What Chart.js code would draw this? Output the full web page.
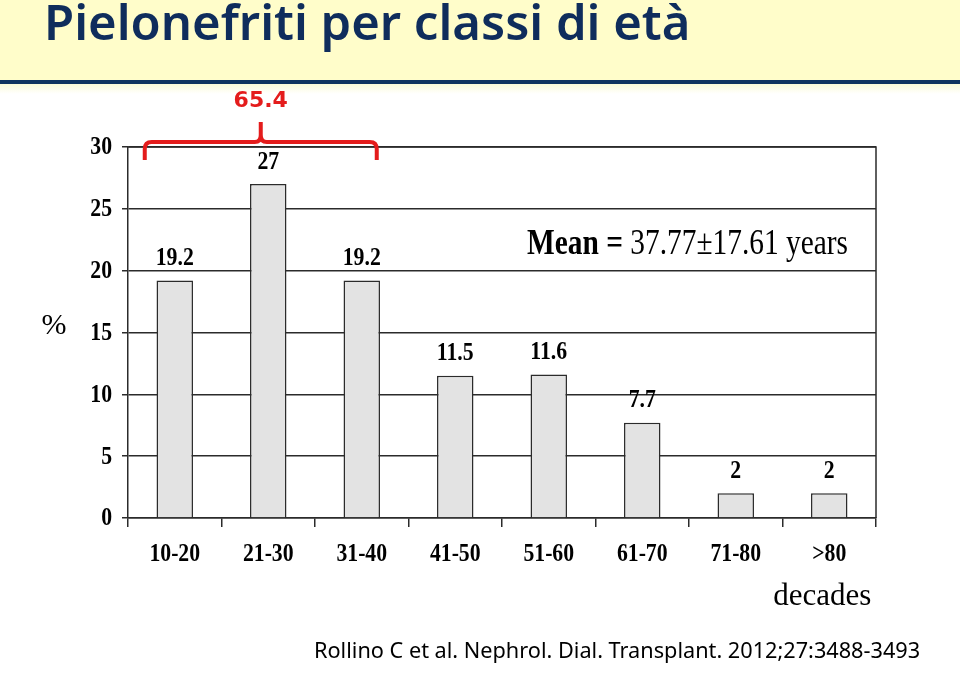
<!DOCTYPE html>
<html>
<head>
<meta charset="utf-8">
<script src="https://cdn.jsdelivr.net/npm/chart.js@4"></script>
<style>
html, body { margin: 0; padding: 0; background: #fff; }
#page { position: relative; width: 960px; height: 674px; overflow: hidden; background: #fff; }
#band { position: absolute; left: 0; top: 0; width: 960px; height: 80px; background: #fffdca; }
#rule { position: absolute; left: 0; top: 80px; width: 960px; height: 4px; background: #0f3461; }
#fade { position: absolute; left: 0; top: 84px; width: 960px; height: 10px; background: linear-gradient(#fbfbd8, #ffffff); }
#title { position: absolute; left: 44px; top: -12px; font-family: "Noto Sans", sans-serif; font-weight: 600; font-size: 49px; color: #0f2d5c; white-space: nowrap; }
#cite { position: absolute; left: 314px; top: 635px; font-family: "Noto Sans", sans-serif; font-size: 21.7px; color: #000; white-space: nowrap; }
#wrap { position: absolute; left: 0; top: 0; width: 960px; height: 674px; }
</style>
</head>
<body>
<div id="page">
	<div id="band"></div>
	<div id="rule"></div>
	<div id="fade"></div>
	<div id="title">Pielonefriti per classi di età</div>
	<div id="wrap"><canvas id="canvas"></canvas></div>
	<div id="cite">Rollino C et al. Nephrol. Dial. Transplant. 2012;27:3488-3493</div>
</div>
<script>
var decades = ['10-20', '21-30', '31-40', '41-50', '51-60', '61-70', '71-80', '>80'];
var percent = [19.2, 27, 19.2, 11.5, 11.6, 7.7, 2, 2];
var yTicks = [0, 5, 10, 15, 20, 25, 30];
var bracketTotal = '65.4';
var meanLabel = 'Mean = ';
var meanValue = '37.77±17.61 years';

var serif = '"Liberation Serif", "Times New Roman", serif';
var ink = '#2b2b2b';
var squeeze = 0.87;

// narrow Times-like text: draws txt squeezed horizontally
function narrowText(c, txt, x, y, align) {
	var w = c.measureText(txt).width * squeeze;
	var left = align === 'right' ? x - w : (align === 'left' ? x : x - w / 2);
	c.save();
	c.translate(left, y);
	c.scale(squeeze, 1);
	c.textAlign = 'left';
	c.fillText(txt, 0, 0);
	c.restore();
}

var extras = {
	id: 'extras',
	afterDatasetsDraw: function(chart) {
		var c = chart.ctx;
		var xs = chart.scales.x;
		var ys = chart.scales.y;
		var area = chart.chartArea;
		var bars = chart.getDatasetMeta(0).data;

		// frame on top and right
		c.save();
		c.strokeStyle = ink;
		c.lineWidth = 1.5;
		c.beginPath();
		c.moveTo(area.left, area.top);
		c.lineTo(area.right, area.top);
		c.lineTo(area.right, area.bottom);
		c.stroke();

		c.fillStyle = '#000';
		c.textBaseline = 'middle';
		c.font = 'bold 25px ' + serif;

		// tick labels
		ys.ticks.forEach(function(t, i) {
			narrowText(c, String(t.value), area.left - 16, ys.getPixelForTick(i) + 1, 'right');
		});
		decades.forEach(function(lab, i) {
			narrowText(c, lab, xs.getPixelForTick(i), area.bottom + 37, 'center');
		});

		// value labels
		bars.forEach(function(b, i) {
			narrowText(c, String(percent[i]), b.x, b.y - 22, 'center');
		});

		c.textAlign = 'center';
		// "%"
		c.font = '30px ' + serif;
		c.fillText('%', 54, ys.getPixelForValue(15) - 6);

		// decades
		c.font = '31px ' + serif;
		c.fillText('decades', xs.getPixelForValue(7) - 7, 597);

		// mean text, squeezed like the original
		c.textAlign = 'left';
		c.font = 'bold 36px ' + serif;
		var w1 = c.measureText(meanLabel).width;
		c.font = '36px ' + serif;
		var w2 = c.measureText(meanValue).width;
		var k = 321 / (w1 + w2);
		c.save();
		c.translate(527, 245);
		c.scale(k, 1);
		c.font = 'bold 36px ' + serif;
		c.fillText(meanLabel, 0, 0);
		c.font = '36px ' + serif;
		c.fillText(meanValue, w1, 0);
		c.restore();

		// red bracket over the first three classes
		var x1 = xs.getPixelForValue(0) - 30;
		var x2 = xs.getPixelForValue(2) + 15;
		var xm = (x1 + x2) / 2;
		var y = ys.getPixelForValue(30) - 5;
		var yEnd = y + 18;
		var yTip = y - 20;
		var r = 7;
		c.strokeStyle = '#e41c1c';
		c.lineWidth = 4;
		c.lineJoin = 'round';
		c.lineCap = 'butt';
		c.beginPath();
		c.moveTo(x1, yEnd);
		c.lineTo(x1, y + r);
		c.quadraticCurveTo(x1, y, x1 + r, y);
		c.lineTo(xm - 6, y);
		c.quadraticCurveTo(xm, y, xm, y - 7);
		c.lineTo(xm, yTip);
		c.moveTo(xm, y - 7);
		c.quadraticCurveTo(xm, y, xm + 6, y);
		c.lineTo(x2 - r, y);
		c.quadraticCurveTo(x2, y, x2, y + r);
		c.lineTo(x2, yEnd);
		c.stroke();

		c.fillStyle = '#e41c1c';
		c.textAlign = 'center';
		c.font = 'bold 22px "DejaVu Sans", sans-serif';
		c.fillText(bracketTotal, xm, yTip - 21);
		c.restore();
	}
};

var ctx = document.getElementById('canvas').getContext('2d');

var config = {
	type: 'bar',
	data: {
		labels: decades,
		datasets: [{
			data: percent,
			backgroundColor: '#e3e3e3',
			borderColor: ink,
			borderWidth: 1.5,
			barPercentage: 0.39,
			categoryPercentage: 1
		}]
	},
	options: {
		responsive: true,
		maintainAspectRatio: false,
		animation: false,
		layout: { padding: { left: 58, top: 147, right: 84, bottom: 106 } },
		plugins: {
			legend: { display: false },
			tooltip: { enabled: false }
		},
		scales: {
			x: {
				offset: true,
				grid: { offset: true, drawOnChartArea: false, tickLength: 9, color: ink, lineWidth: 1.5 },
				border: { color: ink, width: 1.5 },
				ticks: { color: 'rgba(0,0,0,0)', padding: 16, font: { family: serif, size: 21, weight: 'bold' }, maxRotation: 0 },
				afterFit: function(s) { s.height = 50; }
			},
			y: {
				min: 0,
				max: 30,
				afterBuildTicks: function(s) { s.ticks = yTicks.map(function(v) { return { value: v }; }); },
				grid: { color: ink, lineWidth: 1.5, tickLength: 6 },
				border: { color: ink, width: 1.5 },
				ticks: { color: 'rgba(0,0,0,0)', padding: 10, font: { family: serif, size: 21, weight: 'bold' } },
				afterFit: function(s) { s.width = 70; }
			}
		}
	},
	plugins: [extras]
};

var mychart = new Chart(ctx, config);
</script>
</body>
</html>
